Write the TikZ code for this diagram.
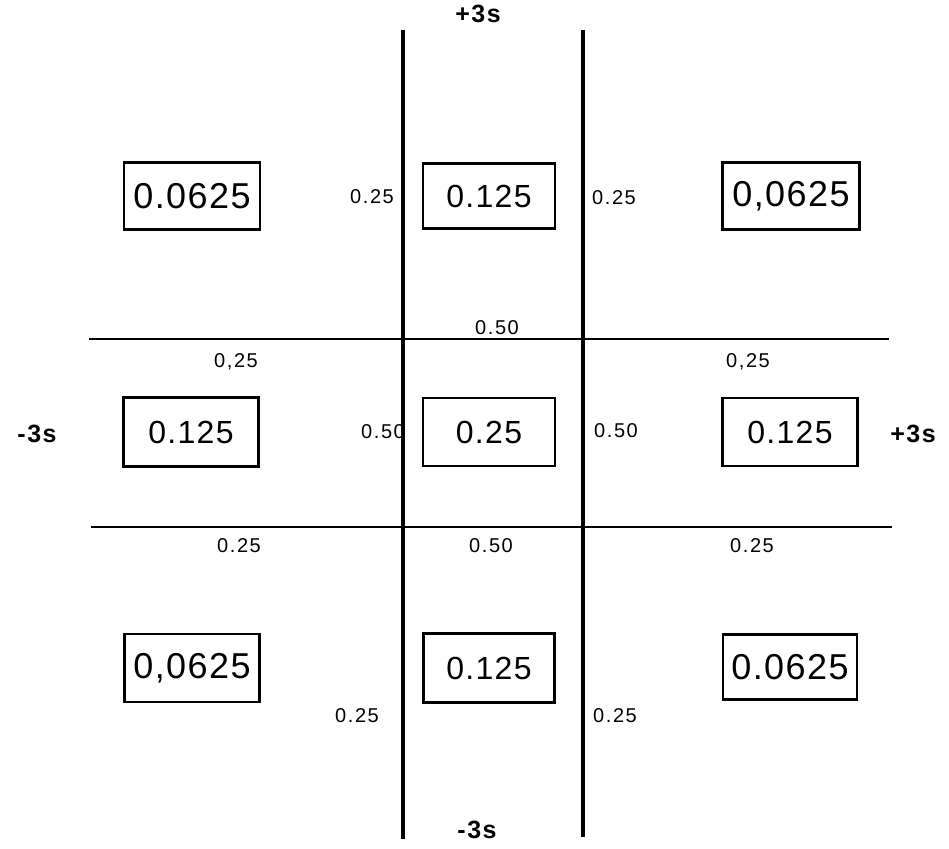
\documentclass[tikz,border=0pt]{standalone}
\usepackage{fontspec}
\setmainfont{Liberation Sans}
\newfontfamily\lblfont[LetterSpace=8]{Liberation Sans}
\newfontfamily\boxfont[LetterSpace=4]{Liberation Sans}
\newfontfamily\axfont[LetterSpace=6]{Liberation Sans}
\begin{document}
\begin{tikzpicture}[x=1pt,y=-1pt,
  cell/.style={draw, line width=2.7pt, minimum width=134pt, minimum height=67pt, inner sep=0pt, font=\boxfont\fontsize{32}{34}\selectfont},
  bigcell/.style={cell, font=\boxfont\fontsize{36}{38}\selectfont},
  lbl/.style={inner sep=0pt, font=\lblfont\fontsize{20}{22}\selectfont},
  axis/.style={inner sep=0pt, font=\axfont\bfseries\fontsize{25}{27}\selectfont},
  grid/.style={line width=3.3pt}]
\useasboundingbox (0,0) rectangle (949,848);
% grid lines
\coordinate (v1t) at (403,30);  \coordinate (v1b) at (403,839);
\coordinate (v2t) at (583,30);  \coordinate (v2b) at (583,837);
\coordinate (h1l) at (89,339);  \coordinate (h1r) at (889,339);
\coordinate (h2l) at (91,527);  \coordinate (h2r) at (892,527);
\draw[grid] (v1t) -- (v1b);
\draw[grid] (v2t) -- (v2b);
\draw[grid, line width=2.8pt] (h1l) -- (h1r);
\draw[grid, line width=2.8pt] (h2l) -- (h2r);
% boxes
\node[bigcell, minimum width=136pt] (tl) at (192,196) {0.0625};
\node[cell, minimum width=132pt, minimum height=65pt] (tc) at (489,196) {0.125};
\node[bigcell, minimum width=137pt] (tr) at (791,196) {0,0625};
\node[cell, minimum width=135pt, minimum height=69pt] (ml) at (191,432) {0.125};
\node[cell, minimum width=132pt, minimum height=68pt] (mc) at (489,432) {0.25};
\node[cell, minimum width=135pt, minimum height=68pt] (mr) at (790,432) {0.125};
\node[bigcell, minimum width=135pt, minimum height=68pt] (bl) at (192,668) {0,0625};
\node[cell, minimum width=131pt, minimum height=69pt] (bc) at (489,668) {0.125};
\node[bigcell, minimum width=134pt, minimum height=65pt] (br) at (790,667) {0.0625};
% small labels
\node[lbl] (a1) at (372,197) {0.25};
\node[lbl] (a2) at (614,198) {0.25};
\node[lbl] (a3) at (497,328) {0.50};
\node[lbl] (a4) at (236,362) {0,25};
\node[lbl] (a5) at (748,362) {0,25};
\node[lbl] (a6) at (383,432) {0.50};
\node[lbl] (a7) at (616,431) {0.50};
\node[lbl] (a8) at (239,546) {0.25};
\node[lbl] (a9) at (491,546) {0.50};
\node[lbl] (a10) at (752,546) {0.25};
\node[lbl] (a11) at (357,716) {0.25};
\node[lbl] (a12) at (615,716) {0.25};
% axis labels
\node[axis] (top) at (478,14) {+3s};
\node[axis] (bot) at (477,830) {-3s};
\node[axis] (lft) at (37,434) {-3s};
\node[axis] (rgt) at (913,434) {+3s};
\end{tikzpicture}
\end{document}
